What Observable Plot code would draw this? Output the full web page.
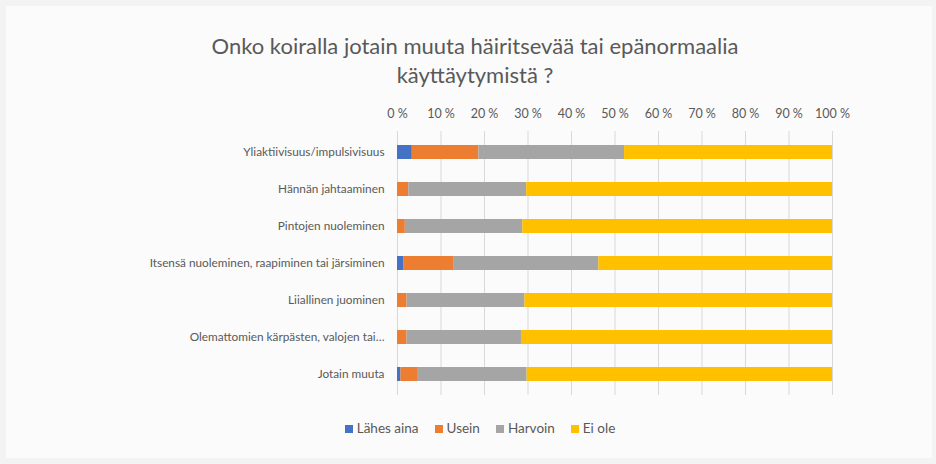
<!DOCTYPE html>
<html>
<head>
<meta charset="utf-8">
<script src="https://cdn.jsdelivr.net/npm/d3@7"></script>
<script src="https://cdn.jsdelivr.net/npm/@observablehq/plot@0.6"></script>
<style>
  html, body { margin: 0; padding: 0; }
  body { width: 936px; height: 464px; background: #f3f3f3; font-family: Lato, "Open Sans", sans-serif; overflow: hidden; }
  #card { position: absolute; left: 6px; top: 6px; width: 926px; height: 452px; background: #fbfbfb; }
  #title { position: absolute; left: 0; top: 31px; width: 936px; text-align: center; color: #595959; font-size: 22px; line-height: 29px; padding-left: 14px; box-sizing: border-box; }
  #chart { position: absolute; left: 0; top: 95px; }
  #legend { position: absolute; left: 0; top: 420px; width: 936px; display: flex; justify-content: center; gap: 16px; font-size: 13.5px; color: #595959; padding-left: 24px; box-sizing: border-box; }
  #legend span.sw { display: inline-block; width: 8px; height: 8px; margin-right: 4px; vertical-align: 0px; }
</style>
</head>
<body>
<div id="card"></div>
<div id="title">Onko koiralla jotain muuta häiritsevää tai epänormaalia<br>käyttäytymistä ?</div>
<div id="chart"></div>
<div id="legend"></div>
<script>
const categories = [
  "Yliaktiivisuus/impulsivisuus",
  "Hännän jahtaaminen",
  "Pintojen nuoleminen",
  "Itsensä nuoleminen, raapiminen tai järsiminen",
  "Liiallinen juominen",
  "Olemattomien kärpästen, valojen tai…",
  "Jotain muuta"
];
const seriesNames = ["Lähes aina", "Usein", "Harvoin", "Ei ole"];
const lahesAina = [3.4, 0, 0, 1.4, 0, 0, 0.8];
const usein     = [15.3, 2.6, 1.8, 11.5, 2.2, 2.2, 3.8];
const harvoin   = [33.5, 27.1, 27.0, 33.4, 27.1, 26.3, 25.2];
const eiOle     = [47.8, 70.3, 71.2, 53.7, 70.7, 71.5, 70.2];
const seriesColors = ["#4472C4", "#ED7D31", "#A5A5A5", "#FFC000"];
const xTicks = [0, 10, 20, 30, 40, 50, 60, 70, 80, 90, 100];

const seriesValues = [lahesAina, usein, harvoin, eiOle];
const rows = [];
seriesNames.forEach((s, si) => {
  categories.forEach((c, ci) => {
    rows.push({category: c, series: s, value: seriesValues[si][ci]});
  });
});

const chart = Plot.plot({
  width: 936,
  height: 310,
  marginTop: 36,
  marginBottom: 10,
  marginLeft: 397,
  marginRight: 104,
  style: {fontFamily: "Lato, 'Open Sans', sans-serif", fontSize: "12px", color: "#595959", background: "transparent"},
  x: {domain: [0, 100], ticks: xTicks},
  y: {domain: categories, paddingInner: 0.62, paddingOuter: 0.31},
  color: {domain: seriesNames, range: seriesColors},
  marks: [
    Plot.ruleX(xTicks, {stroke: "#d9d9d9", strokeWidth: 1}),
    Plot.barX(rows, Plot.stackX({x: "value", y: "category", fill: "series", order: null})),
    Plot.axisX(xTicks, {anchor: "top", tickSize: 0, tickPadding: 14, tickFormat: d => d + " %", fontSize: 12.5, fill: "#595959", label: null}),
    Plot.axisY({tickSize: 0, tickPadding: 13, fontSize: 11.8, fill: "#595959", label: null})
  ]
});
document.getElementById("chart").appendChild(chart);

const legend = document.getElementById("legend");
seriesNames.forEach((s, i) => {
  const item = document.createElement("div");
  item.innerHTML = `<span class="sw" style="background:${seriesColors[i]}"></span>${s}`;
  legend.appendChild(item);
});
</script>
</body>
</html>
